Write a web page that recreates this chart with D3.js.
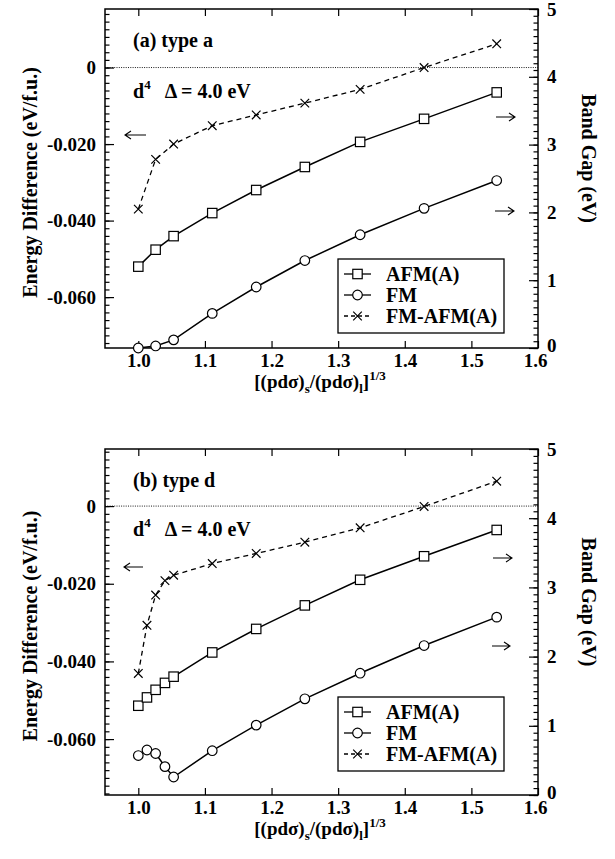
<!DOCTYPE html>
<html><head><meta charset="utf-8">
<script src="https://cdn.jsdelivr.net/npm/d3@7"></script>
<style>
body{margin:0;background:#fff}
svg{display:block}
text{font-family:"Liberation Serif","Times New Roman",serif;font-weight:bold;fill:#000}
</style>
</head><body>
<svg id="c" width="615" height="859"></svg>
<script>
// ---- data ----
const xTickValues = [1.0, 1.1, 1.2, 1.3, 1.4, 1.5, 1.6];
const leftTickValues = [0, -0.02, -0.04, -0.06];
const rightTickValues = [0, 1, 2, 3, 4, 5];
const seriesNames = ["AFM(A)", "FM", "FM-AFM(A)"];
const panelLabels = ["(a) type a", "(b) type d"];

// panel (a): type a
const xA = [1.0, 1.026, 1.053, 1.111, 1.177, 1.25, 1.333, 1.429, 1.538];
const afmA = [1.20, 1.45, 1.65, 1.99, 2.33, 2.67, 3.04, 3.38, 3.77];      // band gap (eV)
const fmA = [0.0, 0.03, 0.12, 0.51, 0.90, 1.29, 1.67, 2.06, 2.47];        // band gap (eV)
const diffA = [-0.0370, -0.0240, -0.0200, -0.0152, -0.0124, -0.0093, -0.0057, 0.0, 0.0062]; // eV/f.u.

// panel (b): type d
const xB = [1.0, 1.013, 1.026, 1.04, 1.053, 1.111, 1.177, 1.25, 1.333, 1.429, 1.538];
const afmB = [1.29, 1.41, 1.52, 1.62, 1.71, 2.06, 2.40, 2.74, 3.11, 3.45, 3.83];
const fmB = [0.57, 0.65, 0.60, 0.41, 0.26, 0.64, 1.01, 1.39, 1.76, 2.16, 2.57];
const diffB = [-0.0431, -0.0307, -0.0229, -0.0192, -0.0178, -0.0148, -0.0122, -0.0093, -0.0056, -0.0001, 0.0064];

// ---- layout ----
const svg = d3.select("#c");
const L = 105, R = 538;
const xDomain = [0.95, 1.6];
const rightDomain = [0, 5];

const panels = [
  {top: 9, bottom: 348, leftDomain: [-0.0733, 0.0153], label: panelLabels[0],
   xs: xA, afm: afmA, fm: fmA, diff: diffA,
   leftArrow: [125, 146, 135], rightArrows: [[496, 515, 117], [495, 514, 211]], legendTop: 259},
  {top: 449, bottom: 795, leftDomain: [-0.0744, 0.0147], label: panelLabels[1],
   xs: xB, afm: afmB, fm: fmB, diff: diffB,
   leftArrow: [124, 143, 567], rightArrows: [[493, 512, 558], [492, 510, 646]], legendTop: 697}
];

function marker(g, type, cx, cy) {
  if (type === 0) {
    g.append("rect").attr("x", cx - 4.7).attr("y", cy - 4.7).attr("width", 9.4).attr("height", 9.4)
      .attr("fill", "#fff").attr("stroke", "#000").attr("stroke-width", 1.2);
  } else if (type === 1) {
    g.append("circle").attr("cx", cx).attr("cy", cy).attr("r", 4.8)
      .attr("fill", "#fff").attr("stroke", "#000").attr("stroke-width", 1.2);
  } else {
    const s = 4.3;
    g.append("path").attr("d", `M${cx - s},${cy - s}L${cx + s},${cy + s}M${cx - s},${cy + s}L${cx + s},${cy - s}`)
      .attr("stroke", "#000").attr("stroke-width", 1.2).attr("fill", "none");
  }
}

function arrow(g, x1, x2, y, dir) {
  const tip = dir < 0 ? x1 : x2;
  const back = tip - dir * 6;
  g.append("path").attr("d", `M${x1},${y}L${x2},${y}M${back},${y - 4}L${tip},${y}L${back},${y + 4}`)
    .attr("fill", "none").attr("stroke", "#000").attr("stroke-width", 1.1);
}

function styleAxis(sel, size) {
  sel.select(".domain").remove();
  sel.selectAll("line").attr("stroke", "#000").attr("stroke-width", 1.2);
  sel.selectAll("text").attr("font-family", "Liberation Serif, Times New Roman, serif")
     .attr("font-weight", "bold").attr("font-size", size).attr("fill", "#000");
}

panels.forEach(p => {
  const g = svg.append("g");
  const x = d3.scaleLinear().domain(xDomain).range([L, R]);
  const yL = d3.scaleLinear().domain(p.leftDomain).range([p.bottom, p.top]);
  const yR = d3.scaleLinear().domain(rightDomain).range([p.bottom, p.top]);

  // zero reference line
  g.append("line").attr("x1", L).attr("x2", R).attr("y1", yL(0)).attr("y2", yL(0))
    .attr("stroke", "#000").attr("stroke-width", 0.9).attr("stroke-dasharray", "1,1.3");

  // left axis: minor + major
  const leftMinor = d3.range(-40, 10).map(i => i * 0.002)
    .filter(v => v >= p.leftDomain[0] && v <= p.leftDomain[1]);
  g.append("g").attr("transform", `translate(${L},0)`)
    .call(d3.axisLeft(yL).tickValues(leftMinor).tickSize(-4.5).tickFormat(""))
    .call(s => styleAxis(s, 19));
  g.append("g").attr("transform", `translate(${L},0)`)
    .call(d3.axisLeft(yL).tickValues(leftTickValues).tickSize(-9).tickPadding(9)
      .tickFormat(v => v === 0 ? "0" : d3.format(".3f")(v).replace("−", "-")))
    .call(s => styleAxis(s, 19));

  // right axis
  const rightMinor = d3.range(0, 51).map(i => i / 10);
  g.append("g").attr("transform", `translate(${R},0)`)
    .call(d3.axisRight(yR).tickValues(rightMinor).tickSize(-4.5).tickFormat(""))
    .call(s => styleAxis(s, 19));
  g.append("g").attr("transform", `translate(${R},0)`)
    .call(d3.axisRight(yR).tickValues(rightTickValues).tickSize(-9).tickPadding(9).tickFormat(d3.format("d")))
    .call(s => styleAxis(s, 19))
    .call(s => s.selectAll(".tick").filter(d => d === 0).select("text").attr("y", -3));

  // x axes (bottom with labels, top ticks only)
  g.append("g").attr("transform", `translate(0,${p.bottom})`)
    .call(d3.axisBottom(x).tickValues(xTickValues).tickSize(-7).tickPadding(6).tickFormat(d3.format(".1f")))
    .call(s => styleAxis(s, 19))
    .call(s => s.selectAll(".tick").filter(d => d === 1.6).select("text").attr("x", -3));
  g.append("g").attr("transform", `translate(0,${p.top})`)
    .call(d3.axisTop(x).tickValues(xTickValues).tickSize(-7).tickFormat(""))
    .call(s => styleAxis(s, 19));

  // frame
  g.append("rect").attr("x", L).attr("y", p.top).attr("width", R - L).attr("height", p.bottom - p.top)
    .attr("fill", "none").attr("stroke", "#000").attr("stroke-width", 1.5);

  // series lines
  const lineR = d3.line().x(d => x(d[0])).y(d => yR(d[1]));
  const lineL = d3.line().x(d => x(d[0])).y(d => yL(d[1]));
  const afmPts = p.xs.map((v, i) => [v, p.afm[i]]);
  const fmPts = p.xs.map((v, i) => [v, p.fm[i]]);
  const diffPts = p.xs.map((v, i) => [v, p.diff[i]]);

  g.append("path").attr("d", lineL(diffPts)).attr("fill", "none").attr("stroke", "#000")
    .attr("stroke-width", 1.3).attr("stroke-dasharray", "5,4");
  g.append("path").attr("d", lineR(afmPts)).attr("fill", "none").attr("stroke", "#000").attr("stroke-width", 1.5);
  g.append("path").attr("d", lineR(fmPts)).attr("fill", "none").attr("stroke", "#000").attr("stroke-width", 1.5);

  diffPts.forEach(d => marker(g, 2, x(d[0]), yL(d[1])));
  afmPts.forEach(d => marker(g, 0, x(d[0]), yR(d[1])));
  fmPts.forEach(d => marker(g, 1, x(d[0]), yR(d[1])));

  // panel label and parameters
  g.append("text").attr("x", 133).attr("y", p.top + 38).attr("font-size", 20).text(p.label);
  const t = g.append("text").attr("x", 133).attr("y", yL(0) + 30).attr("font-size", 20);
  t.append("tspan").text("d");
  t.append("tspan").attr("font-size", 13).attr("dy", -9).text("4");
  t.append("tspan").attr("dy", 9).attr("dx", 14).text("Δ = 4.0 eV");

  // arrows (which axis each curve uses)
  arrow(g, p.leftArrow[0], p.leftArrow[1], p.leftArrow[2], -1);
  p.rightArrows.forEach(a => arrow(g, a[0], a[1], a[2], 1));

  // legend
  const lg = g.append("g");
  lg.append("rect").attr("x", 338).attr("y", p.legendTop).attr("width", 166).attr("height", 74)
    .attr("fill", "#fff").attr("stroke", "#000").attr("stroke-width", 1.3);
  seriesNames.forEach((name, i) => {
    const cy = p.legendTop + 15 + i * 21;
    lg.append("line").attr("x1", 344).attr("x2", 371).attr("y1", cy).attr("y2", cy)
      .attr("stroke", "#000").attr("stroke-width", 1.3).attr("stroke-dasharray", i === 2 ? "4,3" : null);
    marker(lg, i, 357.5, cy);
    lg.append("text").attr("x", 386).attr("y", cy).attr("dominant-baseline", "central")
      .attr("font-size", 20).text(name);
  });

  // axis titles
  const cy = (p.top + p.bottom) / 2;
  g.append("text").attr("transform", `translate(30,${cy + 4}) rotate(-90)`).attr("text-anchor", "middle")
    .attr("dominant-baseline", "central").attr("font-size", 20).text("Energy Difference (eV/f.u.)");
  g.append("text").attr("transform", `translate(589,${cy - 20}) rotate(90)`).attr("text-anchor", "middle")
    .attr("dominant-baseline", "central").attr("font-size", 20).text("Band Gap (eV)");
  const xt = g.append("text").attr("x", 320).attr("y", p.bottom + 40).attr("text-anchor", "middle").attr("font-size", 19);
  xt.append("tspan").text("[(pdσ)");
  xt.append("tspan").attr("font-size", 13).attr("dy", 5).text("s");
  xt.append("tspan").attr("dy", -5).text("/(pdσ)");
  xt.append("tspan").attr("font-size", 13).attr("dy", 5).text("l");
  xt.append("tspan").attr("dy", -5).text("]");
  xt.append("tspan").attr("font-size", 13).attr("dy", -8).text("1/3");
});
</script>
</body></html>
